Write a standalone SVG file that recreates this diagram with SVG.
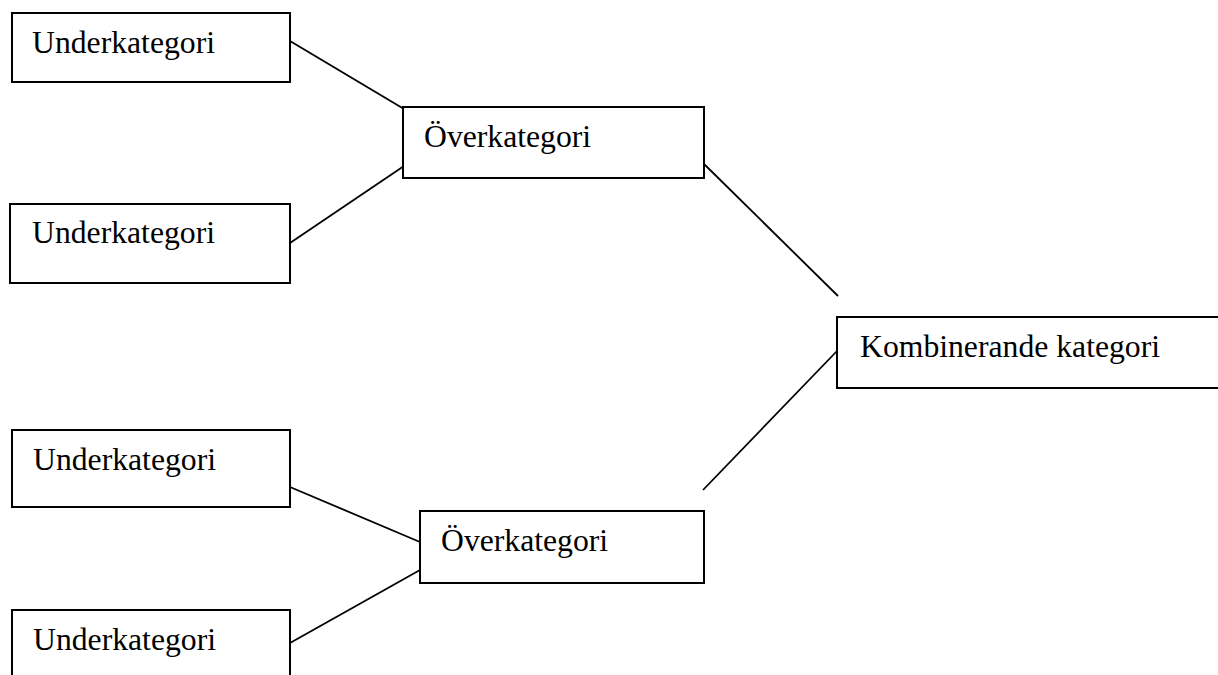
<svg xmlns="http://www.w3.org/2000/svg" width="1218" height="675" viewBox="0 0 1218 675">
<style>
.box{fill:#fff;stroke:#000;stroke-width:2}
.lbl{font-family:"Liberation Serif","Times New Roman",serif;font-size:31.7px;fill:#000}
.con{stroke:#000;stroke-width:1.8;fill:none}
</style>
<rect width="1218" height="675" fill="#fff"/>
<g id="connectors">
<line class="con" x1="290" y1="41" x2="404" y2="109"/>
<line class="con" x1="290" y1="243" x2="404" y2="166"/>
<line class="con" x1="704" y1="164" x2="838" y2="296"/>
<line class="con" x1="837" y1="351" x2="703" y2="490"/>
<line class="con" x1="290" y1="487" x2="420" y2="542"/>
<line class="con" x1="290" y1="643" x2="420" y2="570"/>
</g>
<g id="under1"><rect class="box" x="12" y="13" width="278" height="69"/><text class="lbl" x="32" y="53">Underkategori</text></g>
<g id="under2"><rect class="box" x="10" y="204" width="280" height="79"/><text class="lbl" x="32" y="243">Underkategori</text></g>
<g id="over1"><rect class="box" x="403" y="107" width="301" height="71"/><text class="lbl" x="424" y="147">Överkategori</text></g>
<g id="komb"><rect class="box" x="837" y="317" width="400" height="71"/><text class="lbl" x="860" y="357">Kombinerande kategori</text></g>
<g id="under3"><rect class="box" x="12" y="430" width="278" height="77"/><text class="lbl" x="33" y="470">Underkategori</text></g>
<g id="over2"><rect class="box" x="420" y="511" width="284" height="72"/><text class="lbl" x="441" y="551">Överkategori</text></g>
<g id="under4"><rect class="box" x="12" y="610" width="278" height="80"/><text class="lbl" x="33" y="650">Underkategori</text></g>
</svg>
